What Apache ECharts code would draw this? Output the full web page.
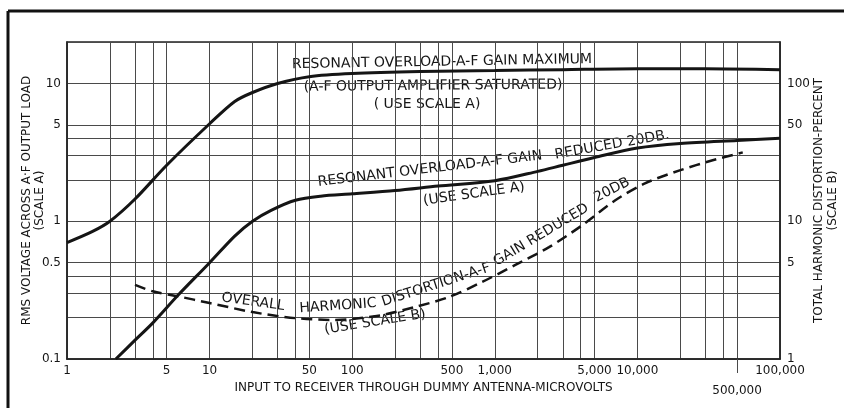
<!DOCTYPE html>
<html><head><meta charset="utf-8">
<script src="https://cdn.jsdelivr.net/npm/echarts@6/dist/echarts.min.js"></script>
<style>html,body{margin:0;padding:0;background:#fff}#c{width:844px;height:408px}</style>
</head><body><div id="c"></div>
<script>
// ---- axis ticks / labels ----
const xLabelValues = [1, 5, 10, 50, 100, 500, 1000, 5000, 10000, 100000];
const xLabelTexts = ['1', '5', '10', '50', '100', '500', '1,000', '5,000', '10,000', '100,000'];
const xGridValues = [1, 2, 3, 4, 5, 10, 20, 30, 40, 50, 100, 200, 300, 400, 500, 1000, 2000, 3000, 4000, 5000, 10000, 20000, 30000, 40000, 50000, 100000];
const xExtraLabelValues = [50000];
const xExtraLabelTexts = ['500,000'];
const yALabelValues = [0.1, 0.5, 1, 5, 10];
const yALabelTexts = ['0.1', '0.5', '1', '5', '10'];
const yAGridValues = [0.1, 0.2, 0.3, 0.4, 0.5, 1, 2, 3, 4, 5, 10, 20];
const yBLabelValues = [1, 5, 10, 50, 100];
const yBLabelTexts = ['1', '5', '10', '50', '100'];

// ---- series (x = input microvolts) ----
// Resonant overload, A-F gain maximum (scale A, volts)
const maxGainX = [1, 1.5, 2, 3, 5, 10, 15, 20, 30, 50, 100, 300, 1000, 3000, 10000, 30000, 100000];
const maxGainY = [0.70, 0.84, 1.0, 1.45, 2.55, 5.1, 7.4, 8.6, 10.0, 11.2, 11.8, 12.2, 12.4, 12.6, 12.8, 12.8, 12.6];
// Resonant overload, A-F gain reduced 20 dB (scale A, volts)
const reducedX = [2.2, 3, 4, 6, 10, 15, 20, 27, 40, 60, 100, 200, 400, 1000, 2000, 3000, 5000, 10000, 20000, 50000, 100000];
const reducedY = [0.1, 0.137, 0.183, 0.29, 0.5, 0.78, 1.0, 1.2, 1.42, 1.52, 1.58, 1.67, 1.8, 1.97, 2.3, 2.55, 2.9, 3.4, 3.67, 3.86, 4.0];
// Overall harmonic distortion, A-F gain reduced 20 dB (scale B, percent)
const distX = [3, 4, 6, 10, 20, 40, 75, 100, 160, 273, 474, 809, 1383, 2400, 4100, 7000, 11400, 19800, 33700, 54800];
const distY = [3.45, 3.1, 2.85, 2.55, 2.19, 1.98, 1.92, 1.95, 2.08, 2.38, 2.81, 3.61, 4.8, 6.48, 9.35, 14.2, 18.9, 23.4, 27.7, 31.6];

const pairs = (xs, ys) => xs.map((x, i) => [x, ys[i]]);
const labelFor = (vals, texts) => v => {
  let best = 0, d = Infinity;
  vals.forEach((t, i) => { const dd = Math.abs(Math.log(v) - Math.log(t)); if (dd < d) { d = dd; best = i; } });
  return d < 0.01 ? texts[best] : '';
};

const INK = '#151515';
const GRIDC = '#4a4a4a';
const FONT = 'DejaVu Sans';
const deg = d => d * Math.PI / 180;
const ann = (text, x, y, rot) => ({
  type: 'text', x, y, rotation: deg(rot),
  style: { text, fill: INK, font: '14px "' + FONT + '"', textAlign: 'center', textVerticalAlign: 'middle' }
});

const chart = echarts.init(document.getElementById('c'), null, { renderer: 'canvas' });
chart.setOption({
  backgroundColor: '#fff',
  animation: false,
  grid: { left: 67, right: 64, top: 42, bottom: 49, outerBoundsMode: 'none', containLabel: false, show: true, borderColor: '#222', borderWidth: 1.5, backgroundColor: 'transparent' },
  xAxis: [{
    type: 'log', logBase: 10, min: 1, max: 100000, position: 'bottom',
    name: 'INPUT TO RECEIVER THROUGH DUMMY ANTENNA-MICROVOLTS',
    nameLocation: 'middle', nameGap: 23, nameMoveOverlap: false,
    nameTextStyle: { color: INK, fontFamily: FONT, fontSize: 12 },
    axisLine: { show: true, lineStyle: { color: '#222', width: 1.5 } },
    axisTick: { show: false, customValues: xGridValues },
    axisLabel: { customValues: xLabelValues, formatter: labelFor(xLabelValues, xLabelTexts), color: INK, fontFamily: FONT, fontSize: 12, margin: 6 },
    splitLine: { show: true, lineStyle: { color: GRIDC, width: 1 } },
    minorTick: { show: false }, minorSplitLine: { show: false }
  }, {
    type: 'log', logBase: 10, min: 1, max: 100000, position: 'bottom',
    axisLine: { show: false },
    axisTick: { show: true, customValues: xExtraLabelValues, length: 14, lineStyle: { color: GRIDC, width: 1 } },
    axisLabel: { customValues: xExtraLabelValues, formatter: labelFor(xExtraLabelValues, xExtraLabelTexts), color: INK, fontFamily: FONT, fontSize: 12, margin: 26 },
    splitLine: { show: false }
  }],
  yAxis: [{
    type: 'log', logBase: 10, min: 0.1, max: 20, position: 'left',
    name: 'RMS VOLTAGE ACROSS A·F OUTPUT LOAD\n(SCALE A)',
    nameLocation: 'middle', nameRotate: 90, nameGap: 21, nameMoveOverlap: false,
    nameTextStyle: { color: INK, fontFamily: FONT, fontSize: 12, lineHeight: 13 },
    axisLine: { show: true, lineStyle: { color: '#222', width: 1.5 } },
    axisTick: { show: false, customValues: yAGridValues },
    axisLabel: { customValues: yALabelValues, formatter: labelFor(yALabelValues, yALabelTexts), color: INK, fontFamily: FONT, fontSize: 12, margin: 6 },
    splitLine: { show: true, lineStyle: { color: GRIDC, width: 1 } }
  }, {
    type: 'log', logBase: 10, min: 1, max: 200, position: 'right',
    name: 'TOTAL HARMONIC DISTORTION-PERCENT\n(SCALE B)',
    nameLocation: 'middle', nameRotate: 90, nameGap: 32, nameMoveOverlap: false,
    nameTextStyle: { color: INK, fontFamily: FONT, fontSize: 12, lineHeight: 14 },
    axisLine: { show: true, lineStyle: { color: '#222', width: 1.5 } },
    axisTick: { show: false, customValues: yBLabelValues },
    axisLabel: { customValues: yBLabelValues, formatter: labelFor(yBLabelValues, yBLabelTexts), color: INK, fontFamily: FONT, fontSize: 12, margin: 7 },
    splitLine: { show: false }
  }],
  series: [{
    name: 'Resonant overload - A-F gain maximum', type: 'line', xAxisIndex: 0, yAxisIndex: 0,
    data: pairs(maxGainX, maxGainY), smooth: 0.3, showSymbol: false,
    lineStyle: { color: INK, width: 3 }
  }, {
    name: 'Resonant overload - A-F gain reduced 20 dB', type: 'line', xAxisIndex: 0, yAxisIndex: 0,
    data: pairs(reducedX, reducedY), smooth: 0.3, showSymbol: false,
    lineStyle: { color: INK, width: 3 }
  }, {
    name: 'Overall harmonic distortion - A-F gain reduced 20 dB', type: 'line', xAxisIndex: 0, yAxisIndex: 1,
    data: pairs(distX, distY), smooth: 0.3, showSymbol: false,
    lineStyle: { color: INK, width: 2.5, type: [11, 6] }
  }],
  graphic: [
    { type: 'line', shape: { x1: 8, y1: 11, x2: 844, y2: 11 }, style: { stroke: '#111', lineWidth: 3 } },
    { type: 'line', shape: { x1: 8, y1: 11, x2: 8, y2: 408 }, style: { stroke: '#111', lineWidth: 3 } },
    ann('RESONANT OVERLOAD-A-F GAIN MAXIMUM', 442, 62, 1),
    ann('(A-F OUTPUT AMPLIFIER SATURATED)', 433, 86, 0.5),
    ann('( USE SCALE A)', 427, 104, 0),
    ann('RESONANT OVERLOAD-A-F GAIN', 430, 169, 6.8),
    ann('REDUCED 20DB.', 612, 145, 10),
    ann('(USE SCALE A)', 474, 194, 8),
    ann('OVERALL', 253, 302, -8),
    ann('HARMONIC', 338, 306, 4),
    ann('DISTORTION-A-F', 436, 285, 18),
    ann('GAIN REDUCED', 541, 235, 31),
    ann('20DB', 612, 190, 27),
    ann('(USE SCALE B)', 375, 322, 9)
  ]
});
</script></body></html>
